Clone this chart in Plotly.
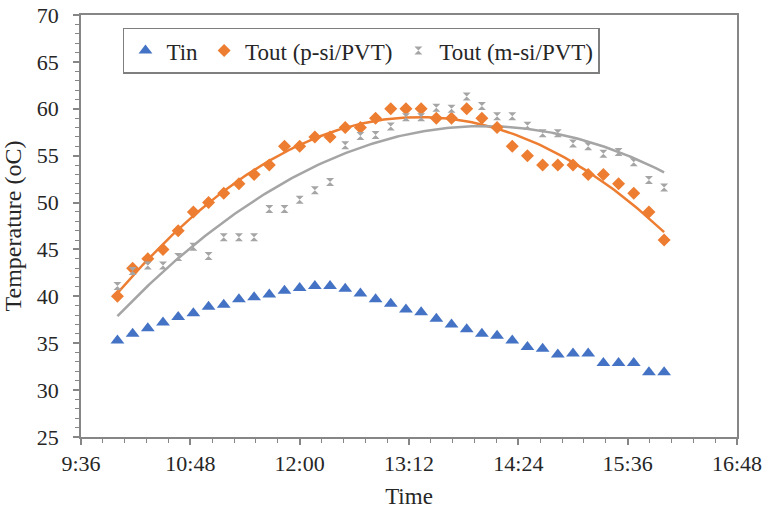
import numpy as np
import plotly.graph_objects as go

times = ["10:00","10:10","10:20","10:30","10:40","10:50","11:00","11:10","11:20","11:30",
         "11:40","11:50","12:00","12:10","12:20","12:30","12:40","12:50","13:00","13:10",
         "13:20","13:30","13:40","13:50","14:00","14:10","14:20","14:30","14:40","14:50",
         "15:00","15:10","15:20","15:30","15:40","15:50","16:00"]

tin = [35.3,36.0,36.6,37.2,37.8,38.2,38.9,39.1,39.7,39.9,
       40.2,40.6,40.9,41.1,41.1,40.8,40.3,39.7,39.2,38.6,
       38.3,37.6,37.0,36.5,36.0,35.8,35.3,34.6,34.4,33.8,
       33.9,33.9,32.9,32.9,32.9,31.9,31.9]

tout_p = [40,43,44,45,47,49,50,51,52,53,
          54,56,56,57,57,58,58,59,60,60,
          60,59,59,60,59,58,56,55,54,54,
          54,53,53,52,51,49,46]

tout_m = [41.1,42.7,43.3,43.3,44.2,45.3,44.3,46.3,46.3,46.3,
          49.3,49.3,50.3,51.3,52.2,56.1,57.1,57.2,58.1,59.1,
          59.1,60.1,60.0,61.3,60.3,59.2,59.2,58.2,57.4,57.4,
          56.3,56.0,55.2,55.4,54.3,52.4,51.6]

DAY = "2020-01-01 "
xdates = [DAY + t for t in times]
mins = np.array([int(t.split(":")[0]) * 60 + int(t.split(":")[1]) for t in times], dtype=float)

def trend(y, order=2):
    c = np.polyfit(mins, np.array(y, dtype=float), order)
    xs = np.linspace(mins[0], mins[-1], 200)
    ys = np.polyval(c, xs)
    xd = [DAY + "%02d:%02d:%02d" % (int(m // 60), int(m % 60), int(round((m % 1) * 60)) % 60) for m in xs]
    return xd, ys

BLUE = "#4472C4"
ORANGE = "#ED7D31"
GREY = "#A5A5A5"
FONT = "Liberation Serif"
TXT = "#262626"

fig = go.Figure()
xd, yp = trend(tout_p, 2)
fig.add_trace(go.Scatter(x=xd, y=yp, mode="lines", line=dict(color=ORANGE, width=2.5),
                         showlegend=False, hoverinfo="skip"))
xd, ym = trend(tout_m, 2)
fig.add_trace(go.Scatter(x=xd, y=ym, mode="lines", line=dict(color=GREY, width=2.5),
                         showlegend=False, hoverinfo="skip"))

fig.add_trace(go.Scatter(x=xdates, y=tin, mode="markers", name="Tin",
                         marker=dict(symbol="triangle-up", size=12, color=BLUE)))
fig.add_trace(go.Scatter(x=xdates, y=tout_p, mode="markers", name="Tout (p-si/PVT)",
                         marker=dict(symbol="diamond", size=10, color=ORANGE)))
fig.add_trace(go.Scatter(x=xdates, y=tout_m, mode="markers", name="Tout (m-si/PVT)",
                         marker=dict(symbol="hourglass", size=8, color=GREY)))

axis_common = dict(showline=True, linecolor="#868686", linewidth=1.5, mirror=True,
                   showgrid=False, zeroline=False, ticks="outside", ticklen=6,
                   tickcolor="#868686", tickwidth=1.5, automargin=False,
                   tickfont=dict(family=FONT, size=22, color=TXT))

fig.update_xaxes(type="date", range=[DAY + "09:36", DAY + "16:48"],
                 tick0=DAY + "09:36", dtick=72 * 60 * 1000, tickformat="%-H:%M",
                 minor=dict(dtick=14.4 * 60 * 1000, ticks="outside", ticklen=4,
                            tickcolor="#868686", tickwidth=1.2),
                 title=dict(text="Time", font=dict(family=FONT, size=23, color=TXT), standoff=13),
                 **axis_common)
fig.update_yaxes(range=[25, 70], dtick=5, tick0=25, ticklabelstandoff=10,
                 minor=dict(dtick=1, ticks="outside", ticklen=4,
                            tickcolor="#868686", tickwidth=1.2),
                 title=dict(text="Temperature (oC)", font=dict(family=FONT, size=24, color=TXT), standoff=8),
                 **axis_common)

fig.update_layout(
    width=769, height=515,
    margin=dict(l=81, r=32, t=15, b=78),
    paper_bgcolor="white", plot_bgcolor="white",
    legend=dict(orientation="h", x=0.064, y=0.97, xanchor="left", yanchor="top",
                bgcolor="white", bordercolor="#7F7F7F", borderwidth=1.5,
                font=dict(family=FONT, size=23, color=TXT),
                itemwidth=32, tracegroupgap=0),
)

fig.write_html("out.html")
